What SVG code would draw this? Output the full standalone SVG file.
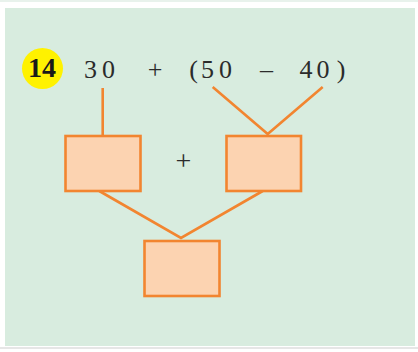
<svg xmlns="http://www.w3.org/2000/svg" width="418" height="352" viewBox="0 0 418 352">
<style>
.bg{fill:#d8ecdf}
.box{fill:#fcd3b1;stroke:#f28530;stroke-width:2.6}
.ln{stroke:#f28530;stroke-width:2.6;fill:none}
.t{font-family:"Liberation Serif",serif;font-size:26px;fill:#2b2b2b;text-anchor:middle}
.num{font-family:"Liberation Serif",serif;font-size:28px;font-weight:bold;fill:#1a1a1a;text-anchor:middle}
</style>
<rect x="0" y="0" width="418" height="352" fill="#ffffff"/>
<rect x="0" y="0" width="418" height="2" fill="#e8f2ec"/>
<rect class="bg" x="5" y="8" width="410" height="338"/>
<rect x="0" y="347" width="418" height="2" fill="#e6e6e6"/>
<g id="label">
<circle cx="42.5" cy="68.5" r="20.5" fill="#fff200"/>
<text class="num" x="42" y="77">14</text>
</g>
<g id="expression">
<text class="t" x="90.5" y="78">3</text>
<text class="t" x="108.5" y="78">0</text>
<text class="t" x="155" y="78">+</text>
<text class="t" x="193.5" y="78">(</text>
<text class="t" x="207.5" y="78">5</text>
<text class="t" x="225.5" y="78">0</text>
<text class="t" x="266.5" y="78">–</text>
<text class="t" x="306" y="78">4</text>
<text class="t" x="323" y="78">0</text>
<text class="t" x="341" y="78">)</text>
</g>
<g id="connectors">
<line class="ln" x1="102.7" y1="88" x2="102.7" y2="136"/>
<polyline class="ln" points="212.7,87 267.7,134 322.7,87"/>
<polyline class="ln" points="99.3,191 181,238 262.7,191"/>
</g>
<g id="box1"><rect class="box" x="65.5" y="136" width="75" height="55"/></g>
<g id="plus"><text class="t" x="183.3" y="169.5" style="font-size:28px">+</text></g>
<g id="box2"><rect class="box" x="226.5" y="136" width="74.5" height="55"/></g>
<g id="box3"><rect class="box" x="144.5" y="241" width="75" height="55"/></g>
</svg>
